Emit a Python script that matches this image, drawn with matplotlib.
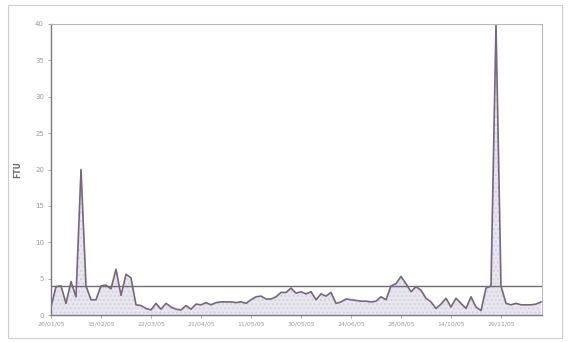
import numpy as np
import matplotlib.pyplot as plt
from matplotlib.patches import Rectangle

# turbidity readings, one per sample
ftu = [1.1, 3.9, 4.0, 1.6, 4.6, 2.5, 20.0, 4.0, 2.1, 2.1,
       4.0, 4.1, 3.6, 6.3, 2.7, 5.6, 5.1, 1.4, 1.3, 0.9,
       0.7, 1.6, 0.8, 1.6, 1.1, 0.8, 0.7, 1.3, 0.8, 1.5,
       1.4, 1.7, 1.4, 1.7, 1.8, 1.8, 1.8, 1.7, 1.8, 1.6,
       2.1, 2.5, 2.6, 2.2, 2.2, 2.5, 3.1, 3.1, 3.7, 3.0,
       3.2, 2.9, 3.2, 2.1, 2.9, 2.6, 3.1, 1.6, 1.8, 2.2,
       2.1, 2.0, 1.9, 1.9, 1.8, 1.9, 2.5, 2.1, 4.0, 4.3,
       5.3, 4.3, 3.2, 3.9, 3.4, 2.3, 1.8, 0.9, 1.5, 2.3,
       1.1, 2.3, 1.6, 0.9, 2.5, 1.1, 0.6, 3.7, 4.0, 40.0,
       4.0, 1.6, 1.4, 1.6, 1.4, 1.4, 1.4, 1.5, 1.8]
limit = 4.0
date_labels = ["26/01/05", "15/02/05", "22/03/05", "21/04/05", "11/05/05",
               "30/05/05", "24/06/05", "28/08/05", "14/10/05", "29/11/05"]
label_every = 10

x = np.arange(len(ftu))
line_col = "#74687a"
text_col = "#9c9c9c"

fig = plt.figure(figsize=(5.68, 3.42), dpi=100)
fig.patches.append(Rectangle((8 / 568, 4 / 342), 554 / 568, 333 / 342,
                             transform=fig.transFigure, fill=False,
                             edgecolor="#cccccc", linewidth=0.8))

ax = fig.add_axes([51 / 568, 27 / 342, 491 / 568, 291 / 342])
ax.fill_between(x, ftu, 0, color="#e8e6ee", hatch="....",
                edgecolor="#d4d2dc", linewidth=0)
ax.plot(x, ftu, color=line_col, linewidth=1.2)
ax.axhline(limit, color=line_col, linewidth=1.0)

ax.set_xlim(0, len(ftu) - 0.8)
ax.set_ylim(0, 40)
ax.set_yticks(np.arange(0, 41, 5))
ax.set_yticklabels([str(v) for v in range(0, 41, 5)], fontsize=5, color=text_col)
ax.set_xticks(x[::label_every])
ax.set_xticklabels(date_labels, fontsize=4.5, color=text_col)
ax.tick_params(axis="both", length=2, width=0.6, color="#9a9a9a", pad=3)
ax.set_ylabel("FTU", fontsize=5.5, color="#6a6a6a", fontweight="bold", labelpad=9)

for side in ["left", "bottom"]:
    ax.spines[side].set_color("#7a7a80")
    ax.spines[side].set_linewidth(1.0)
for side in ["top", "right"]:
    ax.spines[side].set_color("#b8b8bc")
    ax.spines[side].set_linewidth(0.8)

fig.savefig("out.png", dpi=100)
